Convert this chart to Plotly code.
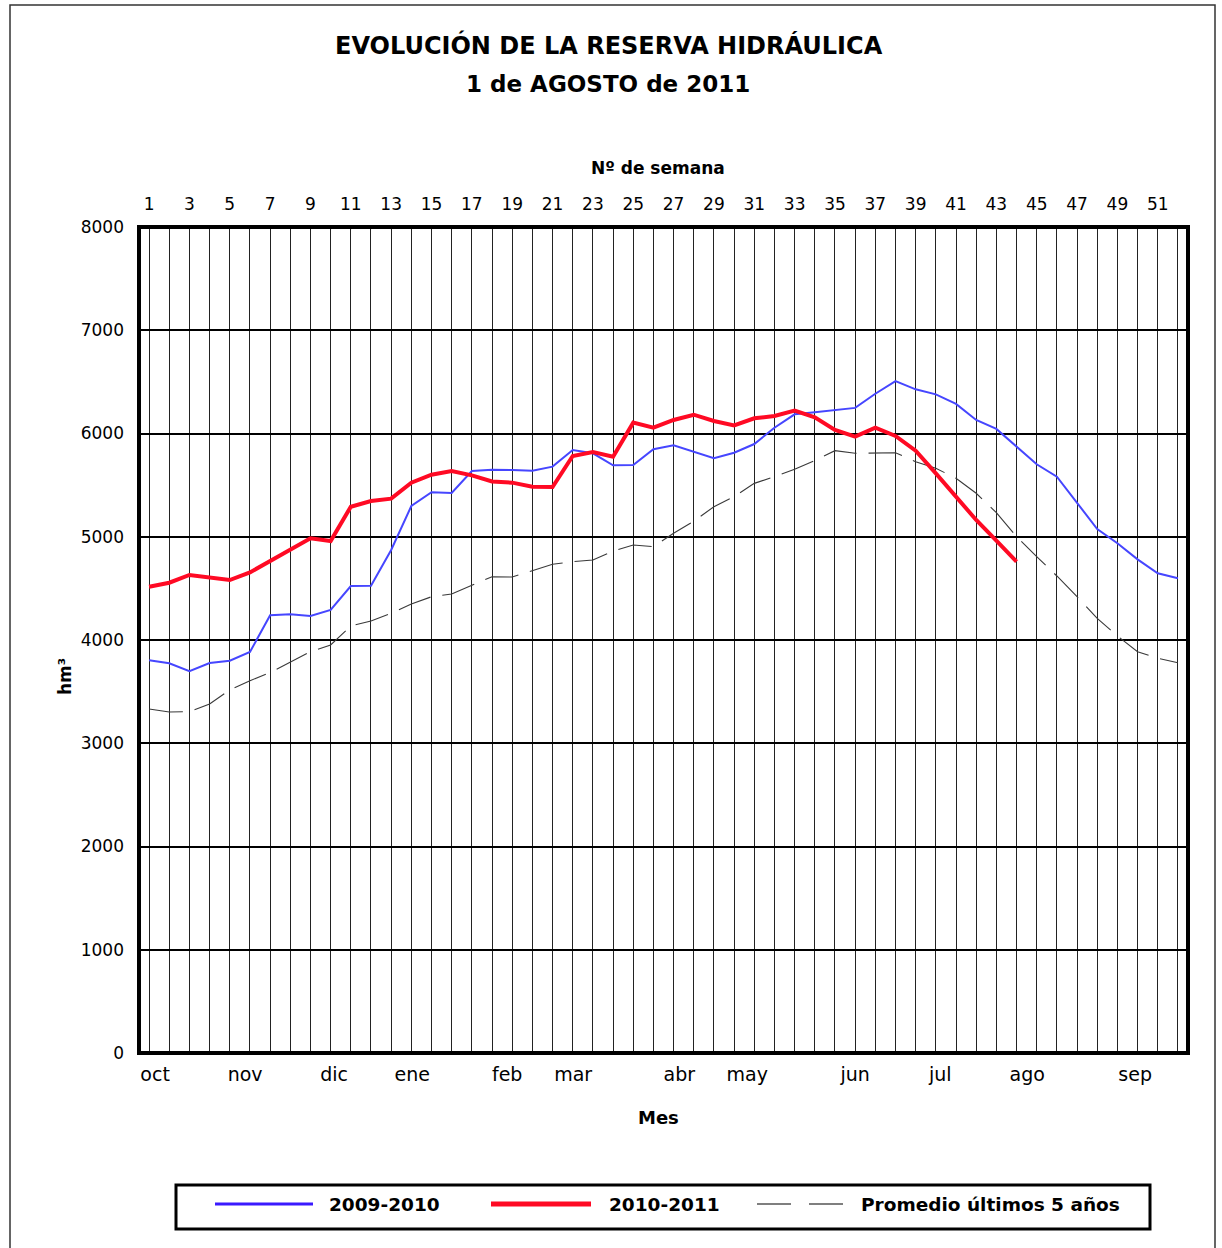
import plotly.graph_objects as go

# ---------------- data ----------------
weeks = list(range(1, 53))
week_ticktext = [str(w) if w % 2 == 1 else "" for w in weeks]

serie_2009_2010 = [3803, 3774, 3697, 3777, 3800, 3884, 4239, 4249, 4232, 4291,
                   4523, 4526, 4872, 5298, 5431, 5424, 5637, 5650, 5646, 5640,
                   5679, 5840, 5808, 5692, 5695, 5847, 5885, 5821, 5760, 5814,
                   5898, 6056, 6186, 6205, 6228, 6248, 6385, 6508, 6428, 6379,
                   6286, 6131, 6044, 5872, 5702, 5582, 5324, 5075, 4937, 4781,
                   4646, 4598]

weeks_2010_2011 = list(range(1, 45))
serie_2010_2011 = [4516, 4555, 4630, 4607, 4581, 4655, 4768, 4881, 4985, 4959,
                   5291, 5346, 5369, 5524, 5601, 5637, 5595, 5535, 5524, 5485,
                   5482, 5782, 5821, 5775, 6105, 6056, 6131, 6182, 6121, 6079,
                   6147, 6170, 6221, 6157, 6034, 5969, 6056, 5976, 5834, 5614,
                   5388, 5162, 4962, 4759]

promedio_5 = [3332, 3303, 3306, 3380, 3516, 3606, 3684, 3787, 3887, 3952,
              4136, 4184, 4258, 4349, 4419, 4446, 4533, 4613, 4610, 4668,
              4733, 4759, 4775, 4862, 4920, 4904, 5033, 5150, 5291, 5388,
              5517, 5582, 5653, 5737, 5834, 5808, 5814, 5814, 5727, 5663,
              5566, 5421, 5233, 5001, 4807, 4620, 4420, 4210, 4039, 3887,
              3823, 3780]

month_names = ["oct", "nov", "dic", "ene", "feb", "mar", "abr", "may",
               "jun", "jul", "ago", "sep"]
month_pos = [1.3, 5.76, 10.17, 14.04, 18.75, 22.02, 27.28, 30.65,
             36.0, 40.22, 44.53, 49.88]

y_ticks = [0, 1000, 2000, 3000, 4000, 5000, 6000, 7000, 8000]

# ---------------- style ----------------
FONT = "DejaVu Sans, Arial, sans-serif"
BLUE = "#4646ff"
RED = "#ff0a24"
GREY = "#3a3a3a"

W, H = 1222, 1248
L, R, T, B = 139, 34, 227, 195
PW, PH = W - L - R, H - T - B


def px(x):
    return (x - L) / PW


def py(y):
    return (H - B - y) / PH


fig = go.Figure()

fig.add_trace(go.Scatter(x=weeks, y=promedio_5, mode="lines", name="Promedio últimos 5 años",
                         line=dict(color=GREY, width=1.1, dash="34px,12px"), showlegend=False))
fig.add_trace(go.Scatter(x=weeks, y=serie_2009_2010, mode="lines", name="2009-2010",
                         line=dict(color=BLUE, width=2), showlegend=False))
fig.add_trace(go.Scatter(x=weeks_2010_2011, y=serie_2010_2011, mode="lines", name="2010-2011",
                         line=dict(color=RED, width=4), showlegend=False))
# carrier trace for the month axis
fig.add_trace(go.Scatter(x=[month_pos[0]], y=[None], xaxis="x2", mode="lines",
                         showlegend=False, hoverinfo="skip"))

fig.update_layout(
    width=W, height=H,
    margin=dict(l=L, r=R, t=T, b=B),
    paper_bgcolor="white", plot_bgcolor="white",
    font=dict(family=FONT, color="black", size=17),
    showlegend=False,
    xaxis=dict(side="top", range=[0.5, 52.5], tickvals=weeks, ticktext=week_ticktext,
               showgrid=True, gridcolor="#222222", gridwidth=1, zeroline=False,
               showline=False, ticks="", ticklabelstandoff=13,
               tickfont=dict(size=17, family=FONT)),
    xaxis2=dict(overlaying="x", side="bottom", anchor="y", range=[0.5, 52.5],
                tickvals=month_pos, ticktext=month_names, showgrid=False,
                zeroline=False, showline=False, ticks="", ticklabelstandoff=8,
                tickfont=dict(size=19, family=FONT)),
    yaxis=dict(range=[0, 8000], tickvals=y_ticks, showgrid=True, gridcolor="black",
               gridwidth=2, zeroline=False, showline=False, ticks="",
               ticklabelstandoff=14, tickfont=dict(size=17, family=FONT)),
)

# plot frame
fig.add_shape(type="rect", xref="paper", yref="paper", x0=0, x1=1, y0=0, y1=1,
              line=dict(color="black", width=4), layer="above")
# outer frame of the figure
fig.add_shape(type="rect", xref="paper", yref="paper",
              x0=px(10), x1=px(1215), y0=py(1252), y1=py(5),
              line=dict(color="#333333", width=1.5))

# titles
fig.add_annotation(text="<b>EVOLUCIÓN DE LA RESERVA HIDRÁULICA</b>", x=px(609), y=py(45),
                   xref="paper", yref="paper", showarrow=False, font=dict(size=24, family=FONT),
                   xanchor="center", yanchor="middle")
fig.add_annotation(text="<b>1 de AGOSTO de 2011</b>", x=px(608), y=py(84),
                   xref="paper", yref="paper", showarrow=False, font=dict(size=23, family=FONT),
                   xanchor="center", yanchor="middle")
fig.add_annotation(text="<b>Nº de semana</b>", x=px(658), y=py(168), xref="paper", yref="paper",
                   showarrow=False, font=dict(size=17, family=FONT), xanchor="center", yanchor="middle")
fig.add_annotation(text="<b>Mes</b>", x=px(658), y=py(1117), xref="paper", yref="paper",
                   showarrow=False, font=dict(size=18, family=FONT), xanchor="center", yanchor="middle")
fig.add_annotation(text="<b>hm³</b>", x=px(65), y=py(677), xref="paper", yref="paper",
                   showarrow=False, font=dict(size=17, family=FONT), textangle=-90,
                   xanchor="center", yanchor="middle")

# legend (drawn)
fig.add_shape(type="rect", xref="paper", yref="paper", x0=px(176), x1=px(1150),
              y0=py(1229), y1=py(1185), line=dict(color="black", width=3))
leg_y = py(1204)
fig.add_shape(type="line", xref="paper", yref="paper", x0=px(215), x1=px(313), y0=leg_y, y1=leg_y,
              line=dict(color="#3a1aff", width=3))
fig.add_shape(type="line", xref="paper", yref="paper", x0=px(491), x1=px(591), y0=leg_y, y1=leg_y,
              line=dict(color=RED, width=5))
fig.add_shape(type="line", xref="paper", yref="paper", x0=px(757), x1=px(843), y0=leg_y, y1=leg_y,
              line=dict(color="black", width=1.2, dash="34px,18px"))
for label, xs in [("2009-2010", 327), ("2010-2011", 607), ("Promedio últimos 5 años", 859)]:
    fig.add_annotation(text="<b>" + label + "</b>", x=px(xs), y=leg_y, xref="paper", yref="paper",
                       showarrow=False, font=dict(size=18.5, family=FONT),
                       xanchor="left", yanchor="middle")

fig.write_html("out.html", config={"displayModeBar": False},
               post_script="document.body.style.margin='0';")
